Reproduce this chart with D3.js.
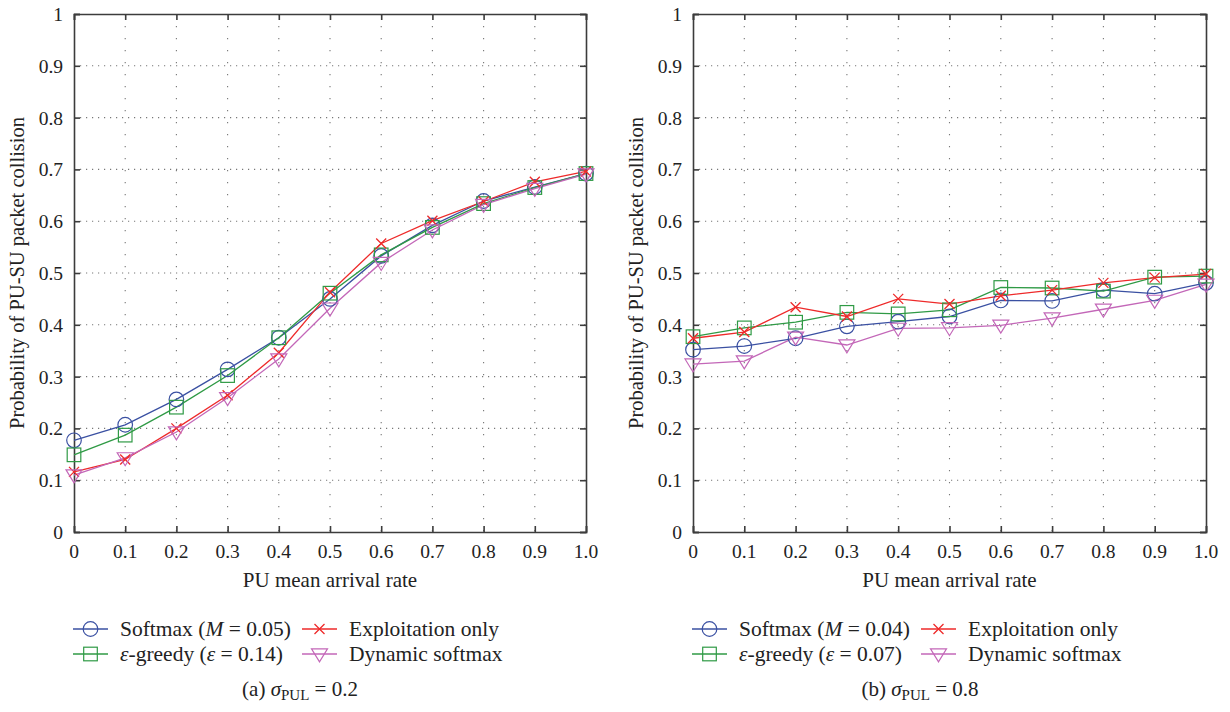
<!DOCTYPE html>
<html><head><meta charset="utf-8">
<script src="https://cdn.jsdelivr.net/npm/d3@7"></script>
<style>
html,body{margin:0;padding:0;background:#fff;}
svg{display:block;font-family:"Liberation Serif","DejaVu Serif",serif;}
</style></head>
<body>
<svg id="chart" width="1230" height="712"></svg>
<script>
// ---------- data ----------
const arrivalRates = [0, 0.1, 0.2, 0.3, 0.4, 0.5, 0.6, 0.7, 0.8, 0.9, 1.0];
const xTickLabels = ["0","0.1","0.2","0.3","0.4","0.5","0.6","0.7","0.8","0.9","1.0"];
const yTickValues = [0, 0.1, 0.2, 0.3, 0.4, 0.5, 0.6, 0.7, 0.8, 0.9, 1];
const yTickLabels = ["0","0.1","0.2","0.3","0.4","0.5","0.6","0.7","0.8","0.9","1"];

// panel (a) sigma_PUL = 0.2
const softmaxA  = [0.177, 0.207, 0.256, 0.314, 0.375, 0.450, 0.533, 0.592, 0.639, 0.666, 0.692];
const greedyA   = [0.149, 0.187, 0.241, 0.302, 0.375, 0.461, 0.535, 0.588, 0.634, 0.665, 0.692];
const exploitA  = [0.116, 0.140, 0.200, 0.264, 0.346, 0.463, 0.557, 0.601, 0.638, 0.676, 0.696];
const dynamicA  = [0.110, 0.143, 0.193, 0.259, 0.334, 0.432, 0.520, 0.583, 0.632, 0.663, 0.691];

// panel (b) sigma_PUL = 0.8
const softmaxB  = [0.352, 0.359, 0.374, 0.397, 0.406, 0.416, 0.447, 0.446, 0.467, 0.460, 0.481];
const greedyB   = [0.377, 0.394, 0.405, 0.424, 0.421, 0.429, 0.472, 0.471, 0.465, 0.492, 0.494];
const exploitB  = [0.374, 0.386, 0.434, 0.416, 0.450, 0.440, 0.456, 0.467, 0.481, 0.491, 0.498];
const dynamicB  = [0.324, 0.330, 0.376, 0.361, 0.393, 0.394, 0.399, 0.413, 0.430, 0.447, 0.478];

const legendA = ["Softmax (M = 0.05)", "ε-greedy (ε = 0.14)", "Exploitation only", "Dynamic softmax"];
const legendB = ["Softmax (M = 0.04)", "ε-greedy (ε = 0.07)", "Exploitation only", "Dynamic softmax"];
const captionA = ["(a)", "0.2"];
const captionB = ["(b)", "0.8"];
const xAxisTitle = "PU mean arrival rate";
const yAxisTitle = "Probability of PU-SU packet collision";

// ---------- styles ----------
const colors = {softmax:"#3a50a2", greedy:"#2f9a45", exploit:"#ee2a2a", dynamic:"#c367b8"};
const svg = d3.select("#chart");

function marker(g, type, color, x, y) {
  if (type === "circle") {
    g.append("circle").attr("cx", x).attr("cy", y).attr("r", 7.3)
      .attr("fill", "none").attr("stroke", color).attr("stroke-width", 1.2);
  } else if (type === "square") {
    g.append("rect").attr("x", x - 6.8).attr("y", y - 6.8).attr("width", 13.6).attr("height", 13.6)
      .attr("fill", "none").attr("stroke", color).attr("stroke-width", 1.2);
  } else if (type === "x") {
    const s = 5;
    g.append("path").attr("d", `M${x-s},${y-s}L${x+s},${y+s}M${x-s},${y+s}L${x+s},${y-s}`)
      .attr("stroke", color).attr("stroke-width", 1.3).attr("fill", "none");
  } else if (type === "tri") {
    const w = 8, h = 13;
    g.append("path").attr("d", `M${x-w},${y-h*0.4}L${x+w},${y-h*0.4}L${x},${y+h*0.6}Z`)
      .attr("fill", "none").attr("stroke", color).attr("stroke-width", 1.2);
  }
}

function panel(opt) {
  const {x0, x1, y0, y1, series, legend, caption, legX, capX} = opt;
  const x = d3.scaleLinear().domain([0, 1]).range([x0, x1]);
  const y = d3.scaleLinear().domain([0, 1]).range([y1, y0]);
  const g = svg.append("g");

  // grid
  const grid = g.append("g");
  grid.selectAll("line.hg").data(yTickValues.slice(1, -1)).enter().append("line")
    .attr("x1", x0).attr("x2", x1).attr("y1", d => y(d)).attr("y2", d => y(d))
    .attr("stroke", "#777").attr("stroke-width", 1.1).attr("stroke-dasharray", "1.2,4.8");
  grid.selectAll("line.vg").data(arrivalRates.slice(1, -1)).enter().append("line")
    .attr("y1", y0).attr("y2", y1).attr("x1", d => x(d)).attr("x2", d => x(d))
    .attr("stroke", "#777").attr("stroke-width", 1.1).attr("stroke-dasharray", "1.2,10.8");

  // axes (D3 axes with inward ticks)
  const axColor = "#3c3c3c";
  const left = g.append("g").attr("transform", `translate(${x0},0)`)
    .call(d3.axisRight(y).tickValues(yTickValues).tickSize(6).tickFormat(""));
  const right = g.append("g").attr("transform", `translate(${x1},0)`)
    .call(d3.axisLeft(y).tickValues(yTickValues).tickSize(6).tickFormat(""));
  const bottom = g.append("g").attr("transform", `translate(0,${y1})`)
    .call(d3.axisTop(x).tickValues(arrivalRates).tickSize(6).tickFormat(""));
  const top = g.append("g").attr("transform", `translate(0,${y0})`)
    .call(d3.axisBottom(x).tickValues(arrivalRates).tickSize(6).tickFormat(""));
  [left, right, bottom, top].forEach(a => {
    a.selectAll("path.domain").attr("stroke", axColor).attr("stroke-width", 1.6);
    a.selectAll(".tick line").attr("stroke", axColor).attr("stroke-width", 1.6);
  });

  // tick labels
  g.selectAll("text.yl").data(yTickValues).enter().append("text")
    .attr("x", x0 - 11).attr("y", d => y(d) + 7).attr("text-anchor", "end")
    .attr("font-size", 19.5).attr("fill", "#222").text((d, i) => yTickLabels[i]);
  g.selectAll("text.xl").data(arrivalRates).enter().append("text")
    .attr("x", d => x(d)).attr("y", y1 + 26).attr("text-anchor", "middle")
    .attr("font-size", 19.5).attr("fill", "#222").text((d, i) => xTickLabels[i]);

  // axis titles
  g.append("text").attr("x", (x0 + x1) / 2).attr("y", y1 + 55).attr("text-anchor", "middle")
    .attr("font-size", 21).attr("fill", "#222").text(xAxisTitle);
  g.append("text").attr("transform", `translate(${x0 - 50},${(y0 + y1) / 2}) rotate(-90)`)
    .attr("text-anchor", "middle").attr("font-size", 20.5).attr("fill", "#222").text(yAxisTitle);

  // series
  const line = d3.line().x((d, i) => x(arrivalRates[i])).y(d => y(d));
  series.forEach(s => {
    g.append("path").datum(s.values).attr("d", line).attr("fill", "none")
      .attr("stroke", s.color).attr("stroke-width", 1.3);
  });
  series.forEach(s => {
    s.values.forEach((v, i) => marker(g, s.type, s.color, x(arrivalRates[i]), y(v)));
  });

  // legend
  const lg = g.append("g");
  const pos = [[0, 0], [0, 1], [1, 0], [1, 1]];
  series.forEach((s, k) => {
    const cx = legX + pos[k][0] * 229;
    const cy = 629 + pos[k][1] * 25;
    lg.append("line").attr("x1", cx).attr("x2", cx + 35).attr("y1", cy).attr("y2", cy)
      .attr("stroke", s.color).attr("stroke-width", 1.3);
    marker(lg, s.type, s.color, cx + 17.5, cy);
    const t = lg.append("text").attr("x", cx + 47).attr("y", cy + 7)
      .attr("font-size", 21.5).attr("fill", "#222");
    const lab = legend[k];
    if (k === 0) {
      const m = lab.match(/^(Softmax \()M( = .*)$/);
      t.append("tspan").text(m[1]);
      t.append("tspan").attr("font-style", "italic").text("M");
      t.append("tspan").text(m[2]);
    } else if (k === 1) {
      const m = lab.match(/^ε(-greedy \()ε( = .*)$/);
      t.append("tspan").attr("font-style", "italic").text("ε");
      t.append("tspan").text(m[1]);
      t.append("tspan").attr("font-style", "italic").text("ε");
      t.append("tspan").text(m[2]);
    } else {
      t.text(lab);
    }
  });

  // caption
  const c = g.append("text").attr("x", capX).attr("y", 696).attr("text-anchor", "middle")
    .attr("font-size", 21).attr("fill", "#222");
  c.append("tspan").text(caption[0] + "  ");
  c.append("tspan").attr("font-style", "italic").text("σ");
  c.append("tspan").attr("font-size", 15).attr("dy", 4).text("PUL");
  c.append("tspan").attr("dy", -4).text(" = " + caption[1]);
}

panel({
  x0: 74, x1: 586, y0: 14, y1: 532, legX: 73, capX: 300, caption: captionA, legend: legendA,
  series: [
    {values: softmaxA, color: colors.softmax, type: "circle"},
    {values: greedyA, color: colors.greedy, type: "square"},
    {values: exploitA, color: colors.exploit, type: "x"},
    {values: dynamicA, color: colors.dynamic, type: "tri"}
  ]
});
panel({
  x0: 693, x1: 1206, y0: 14, y1: 532, legX: 692, capX: 920, caption: captionB, legend: legendB,
  series: [
    {values: softmaxB, color: colors.softmax, type: "circle"},
    {values: greedyB, color: colors.greedy, type: "square"},
    {values: exploitB, color: colors.exploit, type: "x"},
    {values: dynamicB, color: colors.dynamic, type: "tri"}
  ]
});
</script>
</body></html>
